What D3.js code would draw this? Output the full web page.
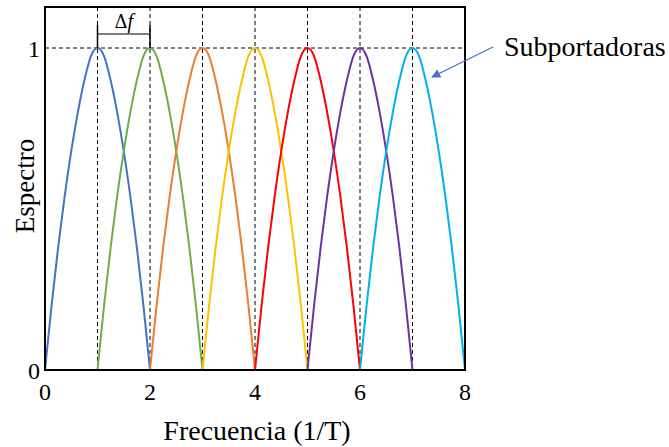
<!DOCTYPE html>
<html><head><meta charset="utf-8">
<script src="https://cdn.jsdelivr.net/npm/d3@7"></script>
<style>body{margin:0;background:#fff}text{font-family:"Liberation Serif","Times New Roman",serif;fill:#000}</style>
</head><body>
<svg id="c" width="669" height="447"></svg>
<script>
// Subcarrier centres (1/T units) and colours
const centers = [1, 2, 3, 4, 5, 6, 7];
const colors = ["#4472C4", "#70AD47", "#ED7D31", "#FFC000", "#FF0000", "#7030A0", "#00B0F0"];
// Spectrum shape: offset from centre -> amplitude
const shapeOffsets = [-1, -0.875, -0.75, -0.625, -0.5, -0.375, -0.25, -0.125, 0, 0.125, 0.25, 0.375, 0.5, 0.625, 0.75, 0.875, 1];
const shapeValues  = [0, 0.20, 0.38, 0.54, 0.68, 0.80, 0.90, 0.975, 1, 0.975, 0.90, 0.80, 0.68, 0.54, 0.38, 0.20, 0];
const xTicks = [0, 2, 4, 6, 8];
const yTicks = [0, 1];

const svg = d3.select("#c");
const L = 45, R = 465, T = 7, B = 370;
const x = d3.scaleLinear().domain([0, 8]).range([L, R]);
const y = d3.scaleLinear().domain([0, 1]).range([B, 48]);

// dashed guides
const g = svg.append("g");
centers.forEach(c => {
  g.append("line").attr("x1", x(c)).attr("x2", x(c)).attr("y1", T).attr("y2", B)
    .attr("stroke", "#000").attr("stroke-width", 1).attr("stroke-dasharray", "4,3");
});
g.append("line").attr("x1", L).attr("x2", R).attr("y1", y(1)).attr("y2", y(1))
  .attr("stroke", "#000").attr("stroke-width", 1).attr("stroke-dasharray", "4,3");

// curves
const line = d3.line().x(d => x(d[0])).y(d => y(d[1])).curve(d3.curveMonotoneX);
centers.forEach((c, i) => {
  const pts = shapeOffsets.map((o, j) => [c + o, shapeValues[j]]);
  svg.append("path").attr("d", line(pts)).attr("fill", "none")
    .attr("stroke", colors[i]).attr("stroke-width", 2);
});

// frame
svg.append("rect").attr("x", L).attr("y", T).attr("width", R - L).attr("height", B - T)
  .attr("fill", "none").attr("stroke", "#000").attr("stroke-width", 2);

// ticks
xTicks.forEach(t => svg.append("text").attr("x", x(t)).attr("y", 400)
  .attr("text-anchor", "middle").attr("font-size", 24).text(t));
yTicks.forEach(t => svg.append("text").attr("x", L - 5).attr("y", y(t) + 9)
  .attr("text-anchor", "end").attr("font-size", 24).text(t));

// axis titles
svg.append("text").attr("x", (L + R) / 2 + 2).attr("y", 440).attr("text-anchor", "middle")
  .attr("font-size", 28).text("Frecuencia (1/T)");
svg.append("text").attr("transform", "translate(34,186) rotate(-90)").attr("text-anchor", "middle")
  .attr("font-size", 27).text("Espectro");

// Δf bracket
svg.append("line").attr("x1", x(1)).attr("x2", x(2)).attr("y1", 34).attr("y2", 34)
  .attr("stroke", "#000").attr("stroke-width", 1.2);
[1, 2].forEach(c => svg.append("line").attr("x1", x(c)).attr("x2", x(c)).attr("y1", 25).attr("y2", 48)
  .attr("stroke", "#000").attr("stroke-width", 1.5));
const df = svg.append("text").attr("x", (x(1) + x(2)) / 2).attr("y", 28).attr("text-anchor", "middle")
  .attr("font-size", 20);
df.append("tspan").style("font-family", "'DejaVu Serif',serif").attr("font-size", 18).text("Δ");
df.append("tspan").attr("font-style", "italic").text("f");

// annotation
svg.append("defs").append("marker").attr("id", "ah").attr("viewBox", "0 0 10 10")
  .attr("refX", 9).attr("refY", 5).attr("markerWidth", 11).attr("markerHeight", 9)
  .attr("markerUnits", "userSpaceOnUse").attr("orient", "auto")
  .append("path").attr("d", "M0,0L10,5L0,10z").attr("fill", "#4472C4");
svg.append("line").attr("x1", 493).attr("y1", 47).attr("x2", 432).attr("y2", 77)
  .attr("stroke", "#4472C4").attr("stroke-width", 1.2).attr("marker-end", "url(#ah)");
svg.append("text").attr("x", 504).attr("y", 56).attr("font-size", 28).text("Subportadoras");
</script>
</body></html>
